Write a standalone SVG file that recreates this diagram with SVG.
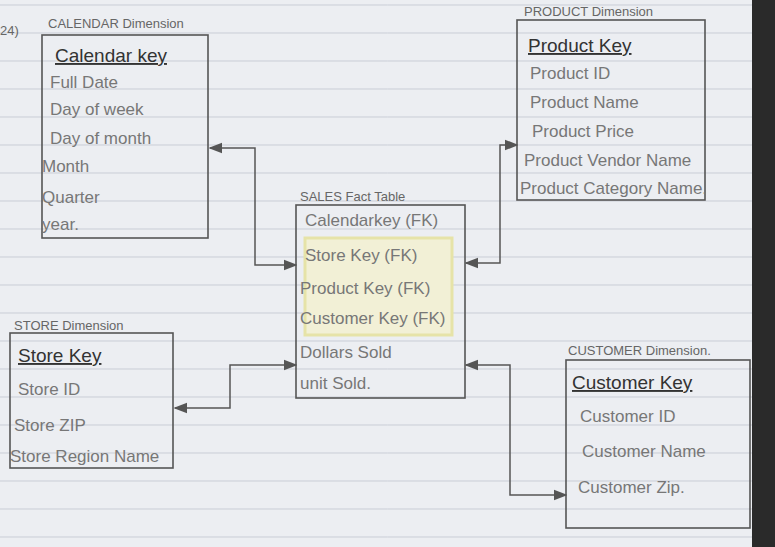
<svg xmlns="http://www.w3.org/2000/svg" width="775" height="547" viewBox="0 0 775 547">
<defs>
<marker id="ah" viewBox="0 0 10 10" refX="9" refY="5" markerWidth="9" markerHeight="9" orient="auto-start-reverse"><path d="M0,1 L10,5 L0,9 z" fill="#555"/></marker>
<pattern id="ruled" width="775" height="28" patternUnits="userSpaceOnUse" y="6"><line x1="0" y1="27" x2="775" y2="27" stroke="#c9cdd6" stroke-width="1"/></pattern>
</defs>
<style>
.box{fill:none;stroke:#555;stroke-width:1.6}
.t{font-family:"Liberation Sans",sans-serif;fill:#777;font-size:17px}
.k{font-family:"Liberation Sans",sans-serif;fill:#333;font-size:19px;text-decoration:underline}
.h{font-family:"Liberation Sans",sans-serif;fill:#666;font-size:13px}
.c{fill:none;stroke:#555;stroke-width:1.5}
</style>
<rect width="775" height="547" fill="#eceef2"/>
<rect width="775" height="547" fill="url(#ruled)"/>
<rect x="752" y="0" width="23" height="547" fill="#2a2a2a"/>
<text x="0" y="35" class="h" font-size="15">24)</text>
<g id="calendar">
<text x="48" y="28" class="h">CALENDAR Dimension</text>
<rect x="42" y="35" width="166" height="203" class="box"/>
<text x="55" y="62" class="k">Calendar key</text>
<text x="50" y="88" class="t" font-size="15">Full Date</text>
<text x="50" y="115" class="t">Day of week</text>
<text x="50" y="144" class="t">Day of month</text>
<text x="42" y="172" class="t">Month</text>
<text x="42" y="203" class="t">Quarter</text>
<text x="42" y="230" class="t">year.</text>
</g>
<g id="product">
<text x="524" y="16" class="h">PRODUCT Dimension</text>
<rect x="517" y="20" width="188" height="180" class="box"/>
<text x="528" y="52" class="k">Product Key</text>
<text x="530" y="79" class="t">Product ID</text>
<text x="530" y="108" class="t">Product Name</text>
<text x="532" y="137" class="t">Product Price</text>
<text x="524" y="166" class="t" font-size="15">Product Vendor Name</text>
<text x="520" y="194" class="t" font-size="14">Product Category Name.</text>
</g>
<g id="sales">
<text x="300" y="201" class="h">SALES Fact Table</text>
<rect x="305" y="238" width="147" height="97" fill="#f2f0d6" stroke="#e6e3a8" stroke-width="3"/>
<rect x="296" y="205" width="169" height="193" class="box"/>
<text x="305" y="226" class="t" font-size="16">Calendarkey (FK)</text>
<text x="305" y="261" class="t">Store Key (FK)</text>
<text x="300" y="294" class="t" font-size="16">Product Key (FK)</text>
<text x="300" y="324" class="t" font-size="16">Customer Key (FK)</text>
<text x="300" y="358" class="t">Dollars Sold</text>
<text x="300" y="389" class="t">unit Sold.</text>
</g>
<g id="store">
<text x="14" y="330" class="h">STORE Dimension</text>
<rect x="10" y="333" width="163" height="135" class="box"/>
<text x="18" y="362" class="k">Store Key</text>
<text x="18" y="395" class="t">Store ID</text>
<text x="14" y="431" class="t">Store ZIP</text>
<text x="10" y="462" class="t" font-size="14">Store Region Name</text>
</g>
<g id="customer">
<text x="568" y="355" class="h">CUSTOMER Dimension.</text>
<rect x="566" y="360" width="184" height="168" class="box"/>
<text x="572" y="389" class="k">Customer Key</text>
<text x="580" y="422" class="t">Customer ID</text>
<text x="582" y="457" class="t">Customer Name</text>
<text x="578" y="493" class="t">Customer Zip.</text>
</g>
<g id="connectors">
<path d="M210 148 H255 V265 H296" class="c" marker-start="url(#ah)" marker-end="url(#ah)"/>
<path d="M466 263 H500 V145 H517" class="c" marker-start="url(#ah)" marker-end="url(#ah)"/>
<path d="M175 408 H230 V365 H296" class="c" marker-start="url(#ah)" marker-end="url(#ah)"/>
<path d="M466 365 H510 V495 H566" class="c" marker-start="url(#ah)" marker-end="url(#ah)"/>
</g>
</svg>
